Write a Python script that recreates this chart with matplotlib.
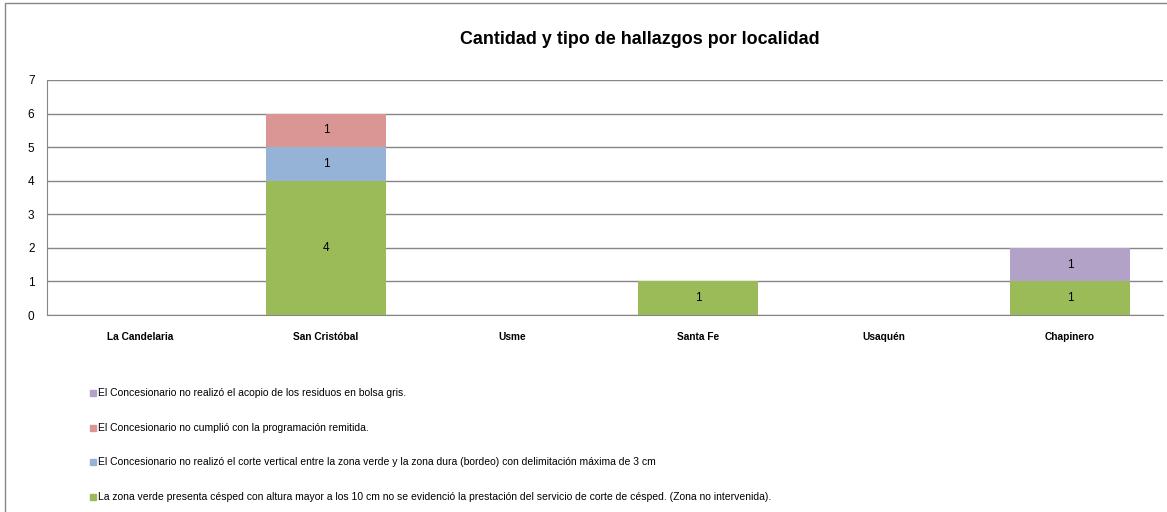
import matplotlib.pyplot as plt
from matplotlib.patches import Rectangle
import numpy as np

plt.rcParams['font.family'] = ['Liberation Sans', 'DejaVu Sans']

localidades = ['La Candelaria', 'San Cristóbal', 'Usme', 'Santa Fe', 'Usaquén', 'Chapinero']

# stacked from bottom to top
zona_no_intervenida = [0, 4, 0, 1, 0, 1]
corte_vertical = [0, 1, 0, 0, 0, 0]
programacion = [0, 1, 0, 0, 0, 0]
acopio_residuos = [0, 0, 0, 0, 0, 1]

series = [
    ('La zona verde presenta césped con altura mayor a los 10 cm no se evidenció la prestación '
     'del servicio de corte de césped. (Zona no intervenida).', zona_no_intervenida, '#9BBB59'),
    ('El Concesionario no realizó el corte vertical entre la zona verde y la zona dura (bordeo) '
     'con delimitación máxima de 3 cm', corte_vertical, '#95B3D7'),
    ('El Concesionario no cumplió con la programación remitida.', programacion, '#D99694'),
    ('El Concesionario no realizó el acopio de los residuos en bolsa gris.', acopio_residuos, '#B3A2C7'),
]

W, H = 1167, 512
fig = plt.figure(figsize=(W / 100, H / 100), dpi=100)
fig.patch.set_facecolor('white')

# outer chart frame
fig.add_artist(Rectangle((5 / W, -0.05), 1.2, 1.05 - 3 / H, transform=fig.transFigure,
                         fill=False, edgecolor='#868686', linewidth=1))

ax = fig.add_axes([47 / W, 1 - 315 / H, 1116 / W, 235 / H])
x = np.arange(len(localidades))
bottom = np.zeros(len(localidades))
for label, vals, color in series:
    vals = np.array(vals, dtype=float)
    bars = ax.bar(x, vals, width=0.64, bottom=bottom, color=color, zorder=2)
    for rect, v, b in zip(bars, vals, bottom):
        if v > 0:
            ax.text(rect.get_x() + rect.get_width() / 2, b + v / 2, f'{int(v)}',
                    ha='center', va='center', fontsize=8.5, zorder=3)
    bottom += vals

ax.set_xlim(-0.5, len(localidades) - 0.5)
ax.set_ylim(0, 7)
ax.set_yticks(range(0, 8))
ax.yaxis.grid(True, color='#868686', linewidth=1)
ax.set_axisbelow(True)
for s in ['top', 'right']:
    ax.spines[s].set_visible(False)
for s in ['left', 'bottom']:
    ax.spines[s].set_color('#868686')
ax.tick_params(length=0, labelsize=8.5, pad=9)
ax.set_xticks(x)
ax.set_xticklabels(localidades, fontweight='bold', fontsize=7.3)
ax.tick_params(axis='x', pad=12)

fig.text(640 / W, 1 - 40 / H, 'Cantidad y tipo de hallazgos por localidad',
         ha='center', va='center', fontsize=12.9, fontweight='bold')

# legend, drawn top to bottom in reverse stacking order
leg_y = [393, 428, 462, 497]
for (label, vals, color), yy in zip(series[::-1], leg_y):
    fig.add_artist(Rectangle((90 / W, 1 - (yy + 3) / H), 6 / W, 6 / H,
                             transform=fig.transFigure, color=color))
    fig.text(98 / W, 1 - yy / H, label, ha='left', va='center', fontsize=7.45)

fig.savefig('out.png', dpi=100)
